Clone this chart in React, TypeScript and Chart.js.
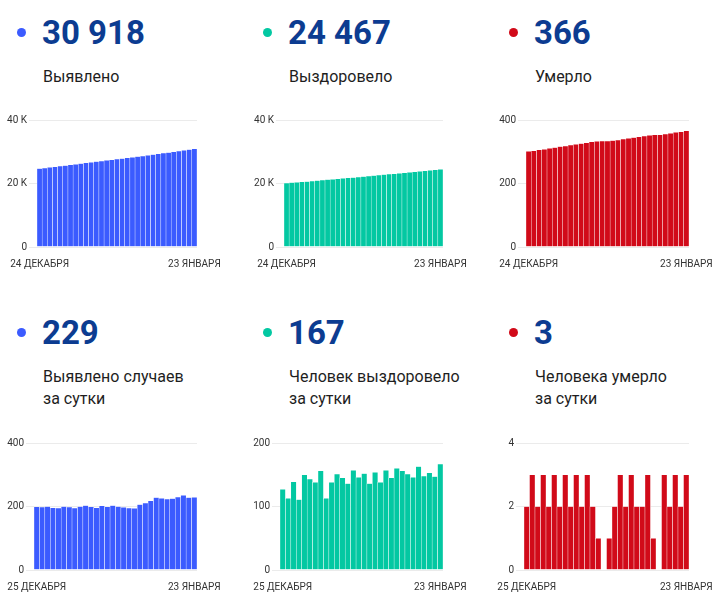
import React, { useEffect, useRef } from 'react';
import { Chart, registerables } from 'chart.js';

Chart.register(...registerables);

// ---- categories ----
const datesCumulative = [
  '24 ДЕКАБРЯ', '25 ДЕКАБРЯ', '26 ДЕКАБРЯ', '27 ДЕКАБРЯ', '28 ДЕКАБРЯ', '29 ДЕКАБРЯ', '30 ДЕКАБРЯ', '31 ДЕКАБРЯ',
  '1 ЯНВАРЯ', '2 ЯНВАРЯ', '3 ЯНВАРЯ', '4 ЯНВАРЯ', '5 ЯНВАРЯ', '6 ЯНВАРЯ', '7 ЯНВАРЯ', '8 ЯНВАРЯ',
  '9 ЯНВАРЯ', '10 ЯНВАРЯ', '11 ЯНВАРЯ', '12 ЯНВАРЯ', '13 ЯНВАРЯ', '14 ЯНВАРЯ', '15 ЯНВАРЯ', '16 ЯНВАРЯ',
  '17 ЯНВАРЯ', '18 ЯНВАРЯ', '19 ЯНВАРЯ', '20 ЯНВАРЯ', '21 ЯНВАРЯ', '22 ЯНВАРЯ', '23 ЯНВАРЯ',
];
const datesDaily = datesCumulative.slice(1);

// ---- series ----
const casesTotal = [
  24690, 24889, 25087, 25287, 25483, 25678, 25878, 26076, 26271, 26471, 26674, 26873, 27069, 27271, 27470, 27673,
  27873, 28070, 28265, 28459, 28665, 28876, 29094, 29322, 29548, 29771, 29996, 30226, 30461, 30689, 30918,
];
const recoveredTotal = [
  20131, 20258, 20371, 20510, 20621, 20771, 20914, 21052, 21208, 21321, 21459, 21610, 21755, 21891, 22048, 22194,
  22346, 22482, 22636, 22774, 22931, 23076, 23236, 23392, 23543, 23689, 23852, 24000, 24153, 24300, 24467,
];
const deathsTotal = [
  301, 303, 306, 308, 311, 313, 316, 318, 321, 323, 326, 328, 331, 333, 334, 334,
  335, 337, 340, 342, 345, 347, 349, 352, 353, 353, 356, 358, 361, 363, 366,
];
const casesDaily = [
  199, 198, 200, 196, 195, 200, 198, 195, 200, 203, 199, 196, 202, 199, 203,
  200, 197, 195, 194, 206, 211, 218, 228, 226, 223, 225, 230, 235, 228, 229,
];
const recoveredDaily = [
  127, 113, 139, 111, 150, 143, 138, 156, 113, 138, 151, 145, 136, 157, 146,
  152, 136, 154, 138, 157, 145, 160, 156, 151, 146, 163, 148, 153, 147, 167,
];
const deathsDaily = [
  2, 3, 2, 3, 2, 3, 2, 3, 2, 3, 2, 3, 2, 1, 0,
  1, 2, 3, 2, 3, 2, 2, 3, 1, 0, 3, 2, 3, 2, 3,
];

// ---- tick labels ----
const ticksThousands = [0, 20000, 40000];
const tickLabelsThousands = ['0', '20 K', '40 K'];
const ticks400 = [0, 200, 400];
const tickLabels400 = ['0', '200', '400'];
const ticks200 = [0, 100, 200];
const tickLabels200 = ['0', '100', '200'];
const ticks4 = [0, 2, 4];
const tickLabels4 = ['0', '2', '4'];

// ---- headlines ----
const headlineValues = ['30 918', '24 467', '366', '229', '167', '3'];
const headlineLabels = [
  ['Выявлено'],
  ['Выздоровело'],
  ['Умерло'],
  ['Выявлено случаев', 'за сутки'],
  ['Человек выздоровело', 'за сутки'],
  ['Человека умерло', 'за сутки'],
];

const BLUE = '#3b5bff';
const GREEN = '#03c8a2';
const RED = '#d10a19';
const NAVY = '#0c3c91';

const FONT = 'Roboto, "Noto Sans", sans-serif';

type MiniProps = {
  labels: string[];
  values: number[];
  color: string;
  ticks: number[];
  tickLabels: string[];
  canvasLeft: number;
  canvasTop: number;
  areaLeft: number;
  areaRight: number;
};

const CANVAS_W = 235;
const CANVAS_H = 172;

function MiniBar(p: MiniProps) {
  const ref = useRef<HTMLCanvasElement | null>(null);
  useEffect(() => {
    if (!ref.current) return;
    const yWidth = p.areaLeft - p.canvasLeft;
    const padRight = p.canvasLeft + CANVAS_W - p.areaRight;
    const n = p.labels.length;
    const chart = new Chart(ref.current, {
      type: 'bar',
      data: {
        labels: p.labels,
        datasets: [
          {
            data: p.values,
            backgroundColor: p.color,
            borderColor: '#ffffff',
            borderWidth: 0.5,
            borderSkipped: false,
            barPercentage: 1,
            categoryPercentage: 1,
          },
        ],
      },
      options: {
        animation: false,
        responsive: false,
        maintainAspectRatio: false,
        devicePixelRatio: 1,
        layout: { padding: { left: 0, right: padRight, top: 15, bottom: 0 } },
        plugins: { legend: { display: false }, tooltip: { enabled: false } },
        scales: {
          x: {
            grid: { display: false },
            border: { display: false },
            ticks: {
              autoSkip: false,
              maxRotation: 0,
              minRotation: 0,
              padding: 3,
              color: '#333',
              font: { size: 10, family: FONT },
              callback: (_v: any, i: number) => (i === 0 || i === n - 1 ? p.labels[i] : ''),
            },
            afterFit: (s: any) => {
              s.paddingLeft = 0;
              s.paddingRight = 0;
              s.height = 30;
            },
          },
          y: {
            min: p.ticks[0],
            max: p.ticks[p.ticks.length - 1],
            afterBuildTicks: (s: any) => {
              s.ticks = p.ticks.map((v) => ({ value: v }));
            },
            grid: { color: '#ebebeb', tickLength: 8, drawTicks: true, lineWidth: 1 },
            border: { display: false },
            ticks: {
              padding: 2,
              color: '#333',
              font: { size: 10, family: FONT },
              callback: (v: any) => {
                const k = p.ticks.indexOf(Number(v));
                return k >= 0 ? p.tickLabels[k] : '';
              },
            },
            afterFit: (s: any) => {
              s.width = yWidth;
            },
          },
        },
      },
    });
    return () => chart.destroy();
  }, []);
  return (
    <canvas
      ref={ref}
      width={CANVAS_W}
      height={CANVAS_H}
      style={{ position: 'absolute', left: p.canvasLeft, top: p.canvasTop, width: CANVAS_W, height: CANVAS_H }}
    />
  );
}

function Headline({ idx, colX, rowY, color }: { idx: number; colX: number; rowY: number; color: string }) {
  return (
    <>
      <div
        style={{
          position: 'absolute',
          left: colX + 17,
          top: rowY + 28,
          width: 9,
          height: 9,
          borderRadius: '50%',
          background: color,
        }}
      />
      <div
        style={{
          position: 'absolute',
          left: colX + 42,
          top: rowY + 16,
          fontFamily: FONT,
          fontWeight: 700,
          fontSize: 33,
          lineHeight: '33px',
          color: NAVY,
          whiteSpace: 'nowrap',
        }}
      >
        {headlineValues[idx]}
      </div>
      <div
        style={{
          position: 'absolute',
          left: colX + 43,
          top: rowY + 66,
          fontFamily: FONT,
          fontSize: 16,
          lineHeight: '22px',
          color: '#1e1e1e',
          whiteSpace: 'nowrap',
        }}
      >
        {headlineLabels[idx].map((t, i) => (
          <div key={i}>{t}</div>
        ))}
      </div>
    </>
  );
}

export default function App() {
  const cols = [0, 246, 492];
  return (
    <div style={{ position: 'fixed', left: 0, top: 0, width: 727, height: 601, background: '#fff', overflow: 'hidden' }}>
      <Headline idx={0} colX={cols[0]} rowY={0} color={BLUE} />
      <Headline idx={1} colX={cols[1]} rowY={0} color={GREEN} />
      <Headline idx={2} colX={cols[2]} rowY={0} color={RED} />
      <Headline idx={3} colX={cols[0]} rowY={300} color={BLUE} />
      <Headline idx={4} colX={cols[1]} rowY={300} color={GREEN} />
      <Headline idx={5} colX={cols[2]} rowY={300} color={RED} />

      <MiniBar labels={datesCumulative} values={casesTotal} color={BLUE} ticks={ticksThousands} tickLabels={tickLabelsThousands}
        canvasLeft={cols[0]} canvasTop={105} areaLeft={37} areaRight={197} />
      <MiniBar labels={datesCumulative} values={recoveredTotal} color={GREEN} ticks={ticksThousands} tickLabels={tickLabelsThousands}
        canvasLeft={cols[1]} canvasTop={105} areaLeft={284} areaRight={443} />
      <MiniBar labels={datesCumulative} values={deathsTotal} color={RED} ticks={ticks400} tickLabels={tickLabels400}
        canvasLeft={cols[2]} canvasTop={105} areaLeft={526} areaRight={689} />

      <MiniBar labels={datesDaily} values={casesDaily} color={BLUE} ticks={ticks400} tickLabels={tickLabels400}
        canvasLeft={cols[0]} canvasTop={428} areaLeft={34} areaRight={197} />
      <MiniBar labels={datesDaily} values={recoveredDaily} color={GREEN} ticks={ticks200} tickLabels={tickLabels200}
        canvasLeft={cols[1]} canvasTop={428} areaLeft={280} areaRight={443} />
      <MiniBar labels={datesDaily} values={deathsDaily} color={RED} ticks={ticks4} tickLabels={tickLabels4}
        canvasLeft={cols[2]} canvasTop={428} areaLeft={524} areaRight={689} />
    </div>
  );
}
